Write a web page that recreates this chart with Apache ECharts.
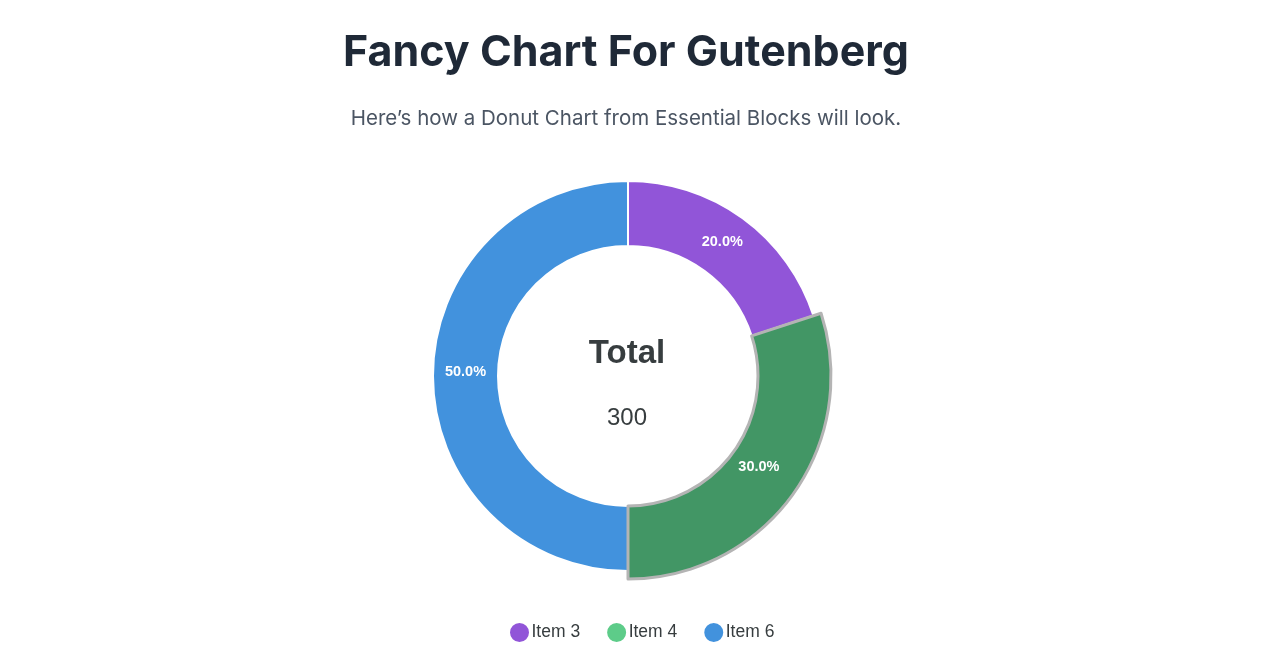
<!DOCTYPE html>
<html>
<head>
<meta charset="utf-8">
<style>
html,body{margin:0;padding:0;background:#fff;}
#chart{width:1288px;height:670px;}
</style>
<script src="https://cdn.jsdelivr.net/npm/echarts@6/dist/echarts.min.js"></script>
</head>
<body>
<div id="chart"></div>
<script>
const categories = ['Item 3', 'Item 4', 'Item 6'];
const values = [60, 90, 150];
const colors = ['#9155D8', '#5DCC89', '#4292DD'];
const highlightIndex = 1;
const totalLabel = 'Total';

const total = values.reduce((a, b) => a + b, 0);
const chart = echarts.init(document.getElementById('chart'));

const labelOffsets = [[-3, 0], [-3, -6], [3, -4]];

const data = categories.map((name, i) => {
  const d = {
    name: name, value: values[i],
    itemStyle: { color: colors[i] },
    label: { offset: labelOffsets[i] }
  };
  if (i === highlightIndex) {
    d.emphasis = {
      itemStyle: { color: '#429665', borderColor: '#b4b4b4', borderWidth: 3 }
    };
  }
  return d;
});

chart.setOption({
  animation: false,
  backgroundColor: '#ffffff',
  title: [
    { text: 'Fancy Chart For Gutenberg', left: 621, top: 27, textAlign: 'center',
      textStyle: { fontFamily: 'Inter', fontWeight: 'bold', fontSize: 43, color: '#1f2937' } },
    { text: 'Here\u2019s how a Donut Chart from Essential Blocks will look.', left: 621, top: 103, textAlign: 'center',
      textStyle: { fontFamily: 'Inter', fontWeight: 'normal', fontSize: 20.5, color: '#4b5563' } },
    { text: totalLabel, left: 622, top: 332, textAlign: 'center',
      textStyle: { fontFamily: 'Liberation Sans', fontWeight: 'bold', fontSize: 33, color: '#373d3f' } },
    { text: String(total), left: 622, top: 401, textAlign: 'center',
      textStyle: { fontFamily: 'Liberation Sans', fontWeight: 'normal', fontSize: 24, color: '#373d3f' } }
  ],
  legend: {
    bottom: 21,
    left: 503,
    icon: 'circle',
    itemWidth: 22,
    itemHeight: 21,
    itemGap: 25,
    textStyle: { fontFamily: 'Liberation Sans', fontSize: 17.5, color: '#373d3f', padding: [0, 0, 0, -4] },
    data: categories
  },
  series: [{
    type: 'pie',
    center: [628, 376],
    radius: [130, 195],
    startAngle: 90,
    clockwise: true,
    avoidLabelOverlap: false,
    itemStyle: { borderColor: '#ffffff', borderWidth: 2 },
    label: {
      show: true,
      position: 'inside',
      color: '#ffffff',
      fontFamily: 'Liberation Sans',
      fontWeight: 'bold',
      fontSize: 14.5,
      formatter: p => p.percent.toFixed(1) + '%'
    },
    labelLine: { show: false },
    emphasis: {
      scale: true,
      scaleSize: 8,
      label: { show: true, color: '#ffffff', fontWeight: 'bold', fontSize: 14.5 }
    },
    data: data
  }]
});

chart.dispatchAction({ type: 'highlight', seriesIndex: 0, dataIndex: highlightIndex });
</script>
</body>
</html>
